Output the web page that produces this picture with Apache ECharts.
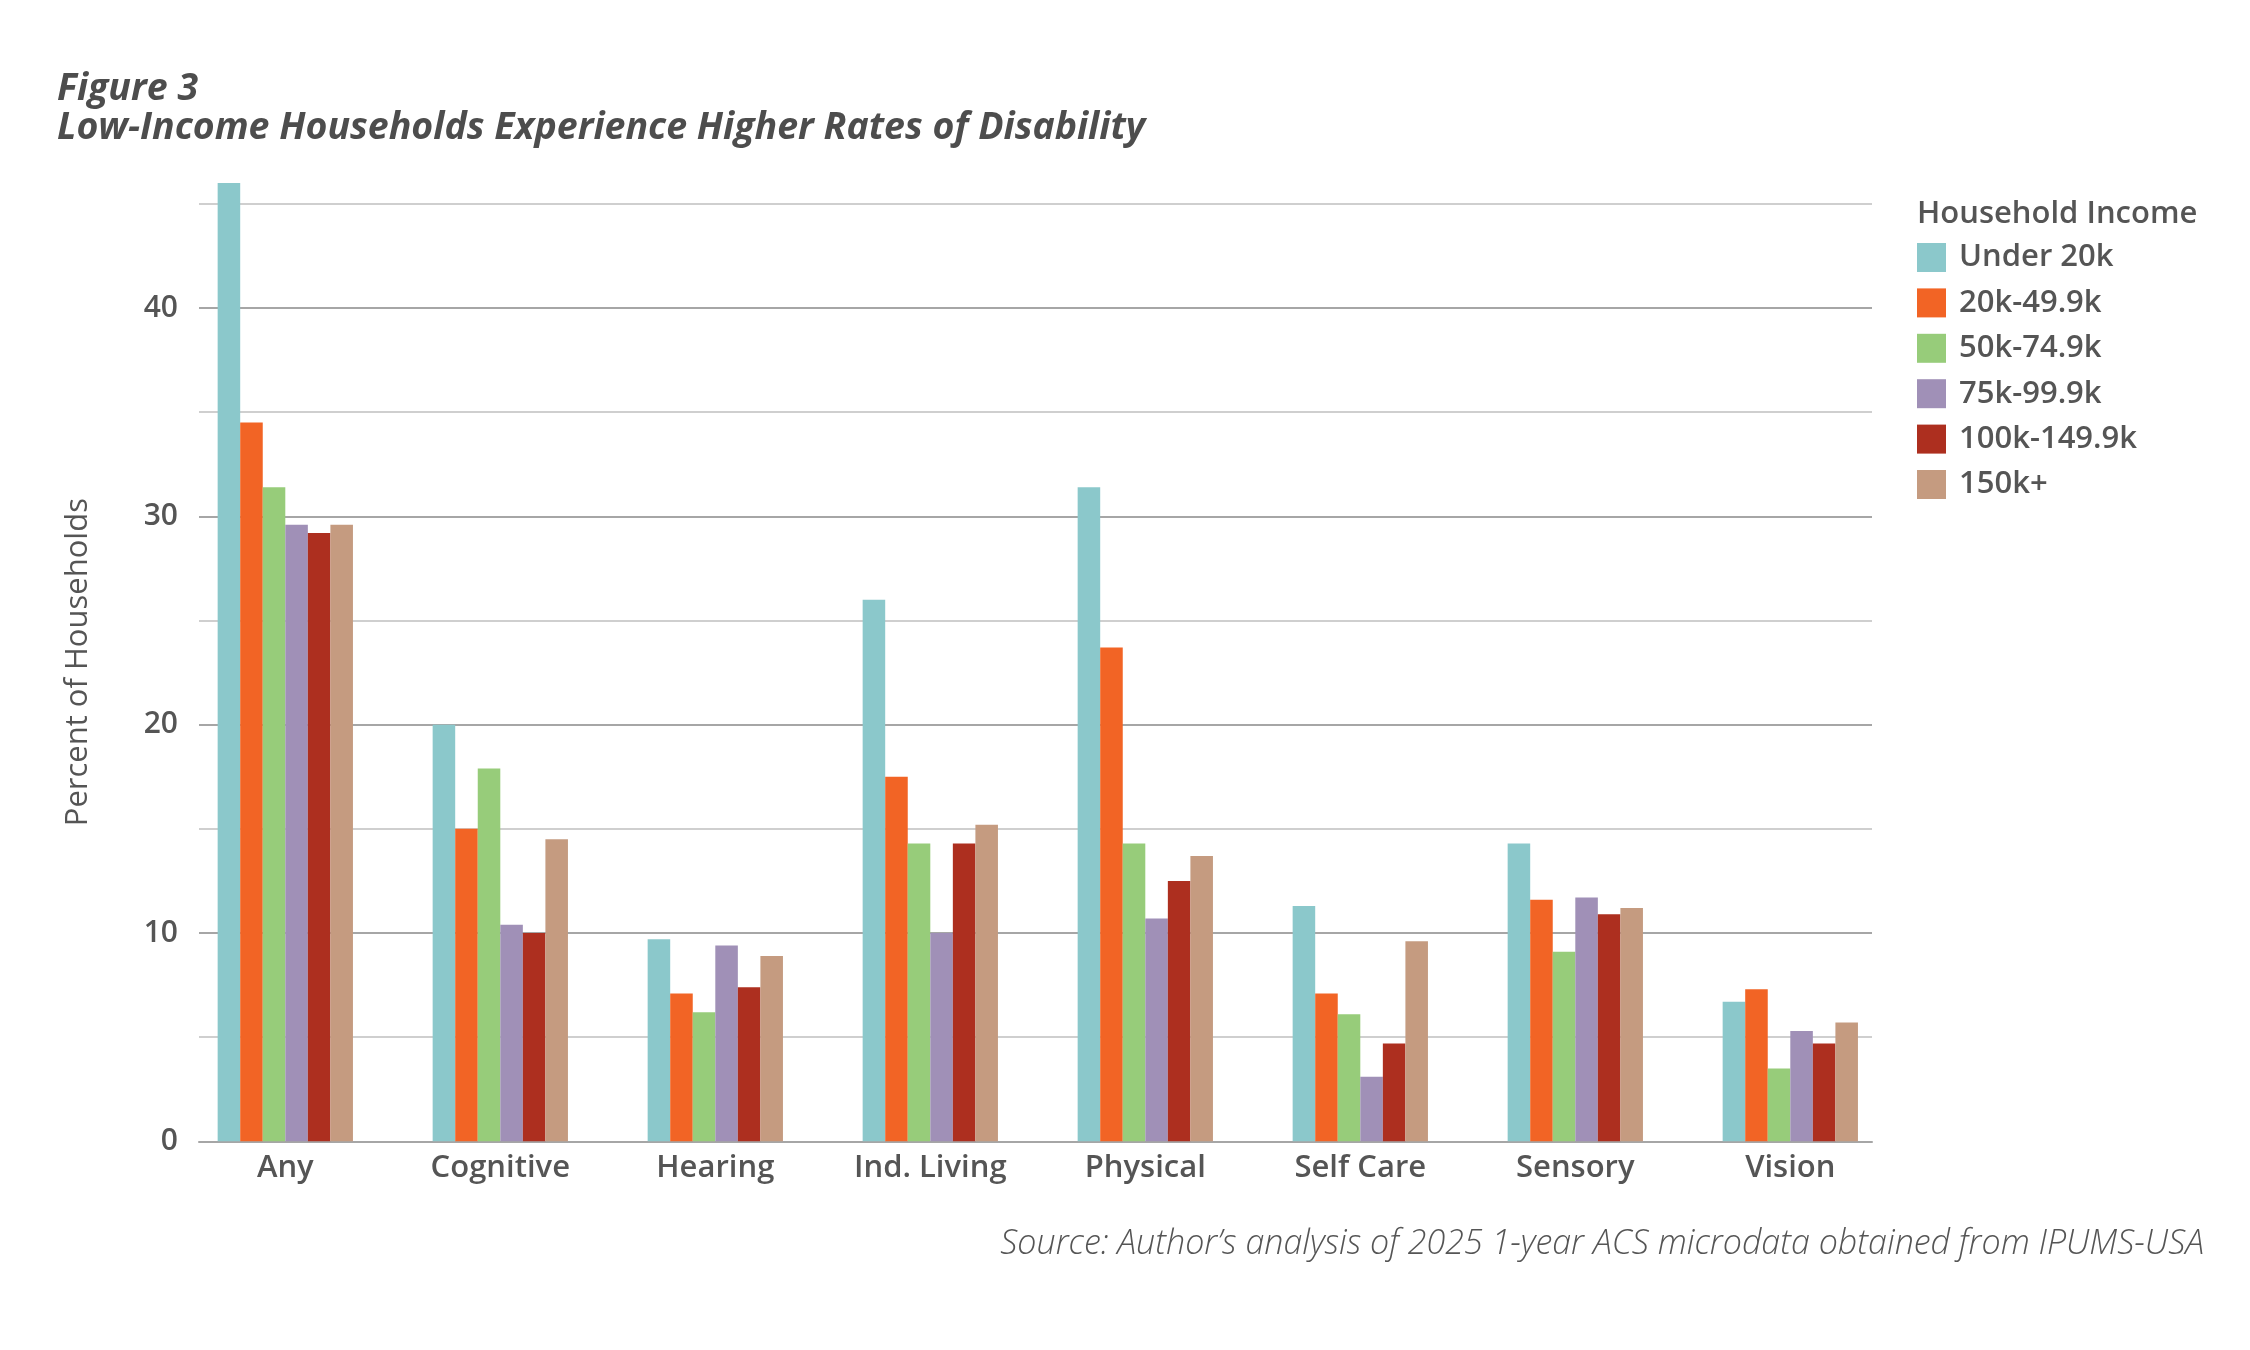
<!DOCTYPE html>
<html>
<head>
<meta charset="utf-8">
<title>Figure 3</title>
<script src="https://cdn.jsdelivr.net/npm/echarts@6/dist/echarts.min.js"></script>
<style>
  html, body { margin: 0; padding: 0; background: #fff; }
  #chart { width: 2250px; height: 1350px; }
</style>
</head>
<body>
<div id="chart"></div>
<script>
// categories and income groups
const categories = ['Any', 'Cognitive', 'Hearing', 'Ind. Living', 'Physical', 'Self Care', 'Sensory', 'Vision'];
const incomeGroups = ['Under 20k', '20k-49.9k', '50k-74.9k', '75k-99.9k', '100k-149.9k', '150k+'];

// percent of households
const under20k   = [46.0, 20.0, 9.7, 26.0, 31.4, 11.3, 14.3, 6.7];
const k20to49    = [34.5, 15.0, 7.1, 17.5, 23.7, 7.1, 11.6, 7.3];
const k50to74    = [31.4, 17.9, 6.2, 14.3, 14.3, 6.1, 9.1, 3.5];
const k75to99    = [29.6, 10.4, 9.4, 10.0, 10.7, 3.1, 11.7, 5.3];
const k100to149  = [29.2, 10.0, 7.4, 14.3, 12.5, 4.7, 10.9, 4.7];
const k150plus   = [29.6, 14.5, 8.9, 15.2, 13.7, 9.6, 11.2, 5.7];

const seriesValues = [under20k, k20to49, k50to74, k75to99, k100to149, k150plus];
const colors = ['#8bc8cb', '#f26425', '#97cc7a', '#a090b7', '#ad2f1f', '#c59b80'];

const yTicks = [0, 10, 20, 30, 40];
const yMax = 46;

const FONT = '"Open Sans", "Noto Sans", sans-serif';
const TEXT = '#555555';

const chart = echarts.init(document.getElementById('chart'));

chart.setOption({
  backgroundColor: '#ffffff',
  animation: false,
  textStyle: { fontFamily: FONT },
  title: [
    {
      text: 'Figure 3\nLow-Income Households Experience Higher Rates of Disability',
      left: 57,
      top: 70,
      padding: 0,
      textStyle: {
        fontFamily: FONT, fontSize: 37.5, fontWeight: 'bold', fontStyle: 'italic',
        color: '#4d4d4d', lineHeight: 39
      }
    },
    {
      text: 'Household Income',
      left: 1917,
      top: 198,
      padding: 0,
      textStyle: { fontFamily: FONT, fontSize: 31, fontWeight: 600, color: TEXT, lineHeight: 32 }
    },
    {
      text: 'Source: Author\u2019s analysis of 2025 1-year ACS microdata obtained from IPUMS-USA',
      right: 46,
      top: 1225,
      padding: 0,
      textStyle: { fontFamily: FONT, fontSize: 34, fontWeight: 300, fontStyle: 'italic', color: TEXT, lineHeight: 38 }
    }
  ],
  legend: {
    data: incomeGroups,
    orient: 'vertical',
    left: 1917,
    top: 242,
    padding: 0,
    icon: 'rect',
    itemWidth: 29,
    itemHeight: 29,
    itemGap: 14.4,
    textStyle: { fontFamily: FONT, fontSize: 31, fontWeight: 600, color: TEXT, lineHeight: 29, padding: [0, 0, 0, 8] }
  },
  grid: [
    // bars
    { left: 177.8, width: 1720, top: 183, bottom: 208.7, containLabel: false },
    // gridlines and labelled y axis
    { left: 199, right: 378, top: 183, bottom: 208.7, containLabel: false }
  ],
  xAxis: [
    {
      type: 'category',
      gridIndex: 0,
      data: categories,
      axisLine: { show: false },
      axisTick: { show: false },
      axisLabel: { fontFamily: FONT, fontSize: 31, fontWeight: 600, color: TEXT, margin: 11 }
    },
    {
      type: 'value',
      gridIndex: 1,
      min: 0,
      max: 1,
      axisLine: { show: true, lineStyle: { color: '#a6a6a6', width: 2 } },
      axisTick: { show: false },
      axisLabel: { show: false },
      splitLine: { show: false }
    }
  ],
  yAxis: [
    { type: 'value', gridIndex: 0, min: 0, max: yMax, show: false },
    {
      type: 'value',
      gridIndex: 1,
      min: 0,
      max: yMax,
      interval: 5,
      name: 'Percent of Households',
      nameLocation: 'middle',
      nameGap: 105,
      nameTextStyle: { fontFamily: FONT, fontSize: 31, color: TEXT },
      axisLine: { show: false },
      axisTick: { show: false },
      axisLabel: {
        fontFamily: FONT, fontSize: 30, fontWeight: 600, color: TEXT, margin: 21,
        formatter: (v) => (yTicks.includes(v) ? String(v) : '')
      },
      splitLine: {
        show: true,
        showMaxLine: false,
        lineStyle: { color: ['#a6a6a6', '#cfcfcf'], width: 2 }
      }
    }
  ],
  series: incomeGroups.map((name, i) => ({
    name,
    type: 'bar',
    xAxisIndex: 0,
    yAxisIndex: 0,
    data: seriesValues[i],
    barWidth: 22.55,
    barGap: '0%',
    itemStyle: { color: colors[i] }
  }))
});
</script>
</body>
</html>
